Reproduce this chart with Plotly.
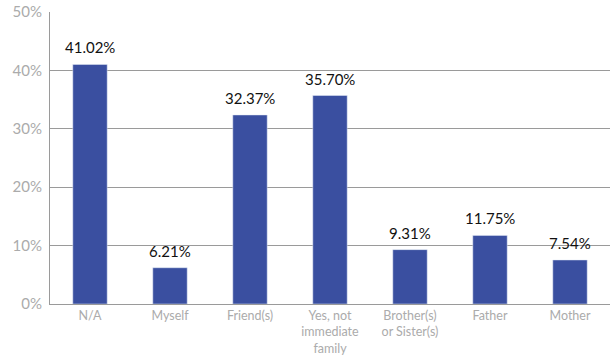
import plotly.graph_objects as go

categories = ["N/A", "Myself", "Friend(s)", "Yes, not<br>immediate<br>family",
              "Brother(s)<br>or Sister(s)", "Father", "Mother"]
values = [41.02, 6.21, 32.37, 35.70, 9.31, 11.75, 7.54]
labels = ["41.02%", "6.21%", "32.37%", "35.70%", "9.31%", "11.75%", "7.54%"]
y_ticks = [0, 10, 20, 30, 40, 50]
y_tick_text = ["0%", "10%", "20%", "30%", "40%", "50%"]

fig = go.Figure(go.Bar(
    x=categories, y=values,
    marker_color="#3a4fa0", width=0.43,
))
for c, v, t in zip(categories, values, labels):
    fig.add_annotation(x=c, y=v, text=t, showarrow=False, yanchor="bottom",
                       yshift=6, font=dict(color="#111111", size=15, family="Lato"))
fig.update_layout(
    width=610, height=360, margin=dict(l=50, r=0, t=12, b=56),
    plot_bgcolor="white", paper_bgcolor="white", showlegend=False,
    font=dict(family="Lato"),
)
fig.update_yaxes(range=[0, 50], tickvals=y_ticks, ticktext=y_tick_text,
                 showgrid=True, gridcolor="#9a9a9a", gridwidth=1,
                 showline=True, linecolor="#9a9a9a", linewidth=1,
                 tickfont=dict(color="#ababab", size=15, family="Lato"),
                 ticks="", ticklabelstandoff=4, zeroline=False)
fig.update_xaxes(showline=True, linecolor="#9a9a9a", linewidth=1,
                 tickfont=dict(color="#ababab", size=12.5, family="Lato"),
                 ticks="")
fig.write_html("out.html")
